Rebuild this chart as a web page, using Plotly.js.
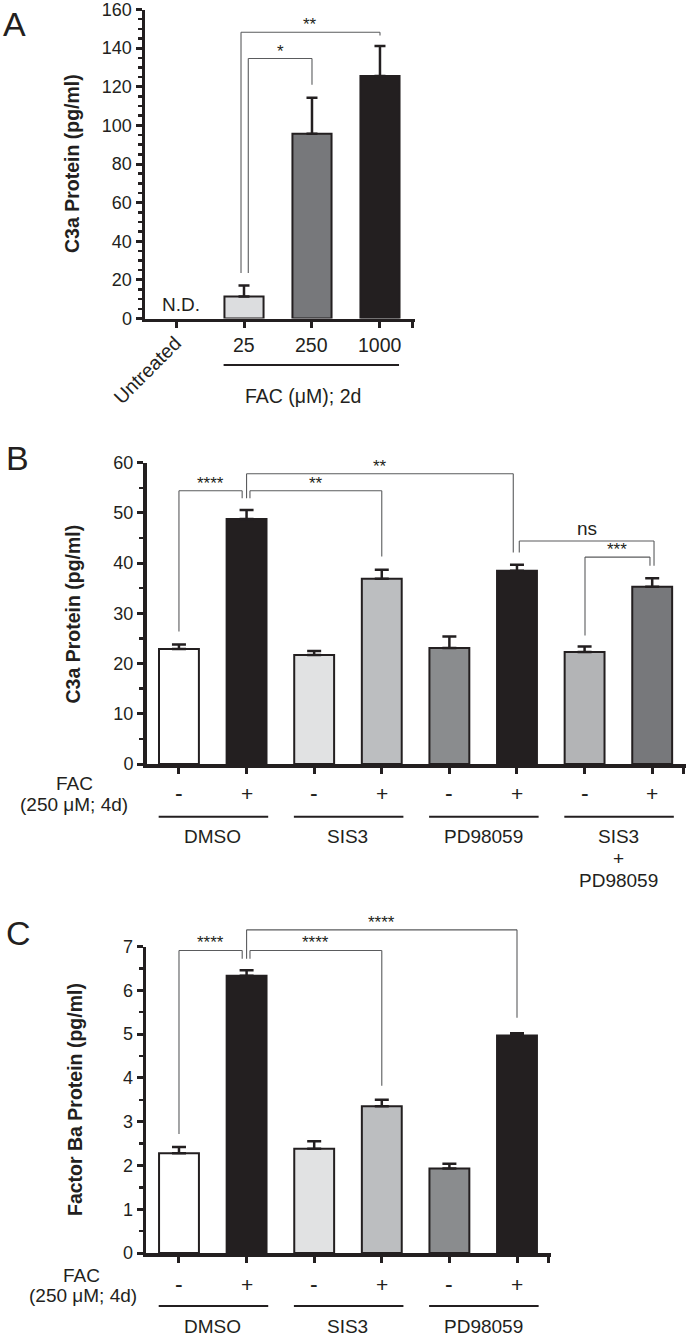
<!DOCTYPE html>
<html><head><meta charset="utf-8">
<script src="https://cdn.plot.ly/plotly-3.0.1.min.js"></script>
<style>html,body{margin:0;padding:0;background:#fff}#chart{width:688px;height:1339px}</style>
</head><body><div id="chart"></div>
<script>
// ---------------- Panel A data ----------------
const aCategories = ['Untreated', '25', '250', '1000'];
const aValues = [null, 11.4, 95.6, 125.6];
const aErrors = [0, 5.7, 18.7, 15.5];
const aColors = ['#ffffff', '#dcdddf', '#77787b', '#231f20'];
const aGroupTitle = 'FAC (μM); 2d';
const aNote = 'N.D.';
// [x0, x1, top, leftBottom, rightBottom, label]
const aSig = [[1.063, 2, 134.6, 23.5, 121, '*'], [0.956, 3, 148.2, 23.5, 146.6, '**']];

// ---------------- Panel B data ----------------
const bFac = ['-', '+', '-', '+', '-', '+', '-', '+'];
const bValues = [22.9, 48.8, 21.7, 36.9, 23.1, 38.5, 22.3, 35.3];
const bErrors = [0.9, 1.8, 0.8, 1.8, 2.3, 1.2, 1.1, 1.7];
const bColors = ['#ffffff', '#231f20', '#e1e2e3', '#bcbec0', '#8a8c8e', '#231f20', '#b3b4b6', '#77787b'];
const bGroups = ['DMSO', 'SIS3', 'PD98059', 'SIS3\n+\nPD98059'];
const bSig = [[0, 0.935, 54.4, 26.4, 52.9, '****'], [1.05, 3, 54.4, 52.9, 41.3, '**'],
              [1, 4.945, 57.8, 52.9, 42.1, '**'], [5.034, 7.027, 44.4, 42.1, 39.5, 'ns'],
              [6.006, 6.967, 41.2, 25.6, 39.5, '***']];

// ---------------- Panel C data ----------------
const cFac = ['-', '+', '-', '+', '-', '+'];
const cValues = [2.28, 6.33, 2.38, 3.35, 1.93, 4.97];
const cErrors = [0.14, 0.13, 0.17, 0.15, 0.11, 0.05];
const cColors = ['#ffffff', '#231f20', '#e1e2e3', '#bcbec0', '#8a8c8e', '#231f20'];
const cGroups = ['DMSO', 'SIS3', 'PD98059'];
const cSig = [[0, 0.935, 6.91, 2.72, 6.72, '****'], [1.05, 3, 6.91, 6.72, 3.82, '****'],
              [1, 5, 7.38, 6.72, 5.37, '****']];

const yTitleA = 'C3a Protein (pg/ml)';
const yTitleB = 'C3a Protein (pg/ml)';
const yTitleC = 'Factor Ba Protein (pg/ml)';
const facLine1 = 'FAC';
const facLine2 = '(250 μM; 4d)';

// ---------------- layout helpers ----------------
const W = 688, H = 1339;
const FONT = '"Liberation Sans", Arial, Helvetica, sans-serif';
const INK = '#231f20';
const BRK = '#5a5b5d';
const py = y => 1 - y / H;
const pxx = x => x / W;

function barTrace(xa, ya, vals, errs, colors, width, capw) {
  return {
    type: 'bar', x: vals.map((_, i) => i), y: vals, width: width,
    xaxis: xa, yaxis: ya,
    marker: {color: colors, line: {color: INK, width: 2}},
    error_y: {type: 'data', symmetric: false, array: errs, arrayminus: errs.map(() => 0),
              color: INK, thickness: 2.5, width: capw},
    hoverinfo: 'none', showlegend: false
  };
}
function xAxis(d, range, anchor, n) {
  const t = []; for (let i = 0; i < n; i++) t.push(i); t.push(range[1] - 0.03);
  return {domain: [pxx(d[0]), pxx(d[1])], range: range, anchor: anchor, showline: true, linewidth: 3.5,
          linecolor: INK, ticks: 'outside', ticklen: 6, tickwidth: 3, tickcolor: INK, tickvals: t,
          showticklabels: false, showgrid: false, zeroline: false, fixedrange: true};
}
function yAxis(d, range, anchor, dtick, minor) {
  return {domain: [py(d[1]), py(d[0])], range: range, anchor: anchor, showline: true, linewidth: 3.5,
          linecolor: INK, ticks: 'outside', ticklen: 6, tickwidth: 3, tickcolor: INK, tick0: 0, dtick: dtick,
          tickfont: {family: FONT, size: 18, color: INK}, ticklabeloverflow: 'allow',
          minor: {dtick: minor, tick0: 0, ticks: 'outside', ticklen: 4, tickwidth: 2.5, tickcolor: INK},
          showgrid: false, zeroline: false, fixedrange: true};
}

const shapes = [];
const annotations = [];
function ann(o) {
  annotations.push(Object.assign({showarrow: false, xanchor: 'center', yanchor: 'middle',
                                  font: {family: FONT, size: 19, color: INK}}, o));
}
function brackets(sig, xa, ya, rmax) {
  sig.forEach(s => {
    const [x0, x1, top, lb, rb, lab] = s;
    const yr = ya + ' domain';
    const line = {color: BRK, width: 1.1};
    shapes.push({type: 'line', xref: xa, yref: yr, x0: x0, x1: x0, y0: lb / rmax, y1: top / rmax, line: line});
    shapes.push({type: 'line', xref: xa, yref: yr, x0: x0, x1: x1, y0: top / rmax, y1: top / rmax, line: line});
    shapes.push({type: 'line', xref: xa, yref: yr, x0: x1, x1: x1, y0: rb / rmax, y1: top / rmax, line: line});
    const isNs = lab === 'ns';
    ann({xref: xa, yref: yr, x: (x0 + x1) / 2, y: top / rmax, yanchor: 'bottom', yshift: isNs ? 0 : -4,
         text: lab, font: {family: FONT, size: isNs ? 19 : 17, color: INK}});
  });
}
function hline(xa, x0, x1, ypx) {
  shapes.push({type: 'line', xref: xa, yref: 'paper', x0: x0, x1: x1, y0: py(ypx), y1: py(ypx),
               line: {color: INK, width: 2}});
}

// ---------------- geometry ----------------
const A = {xd: [145, 415], yd: [9.5, 318.5], xr: [-0.456, 3.515], yr: [0, 160]};
const B = {xd: [146.5, 686], yd: [462.7, 764], xr: [-0.48, 7.5], yr: [0, 60]};
const C = {xd: [146, 551], yd: [946.5, 1253], xr: [-0.488, 5.503], yr: [0, 7]};

const data = [
  barTrace('x', 'y', aValues, aErrors, aColors, 0.575, 5.5),
  barTrace('x2', 'y2', bValues, bErrors, bColors, 0.59, 7),
  barTrace('x3', 'y3', cValues, cErrors, cColors, 0.59, 7)
];

// Panel letters
ann({xref: 'paper', yref: 'paper', x: pxx(14.5), y: py(24.5), text: 'A', font: {family: FONT, size: 34, color: INK}});
ann({xref: 'paper', yref: 'paper', x: pxx(17), y: py(457.5), text: 'B', font: {family: FONT, size: 34, color: INK}});
ann({xref: 'paper', yref: 'paper', x: pxx(18.5), y: py(933), text: 'C', font: {family: FONT, size: 34, color: INK}});

// Y titles
[[yTitleA, 72, 164], [yTitleB, 72, 614.5], [yTitleC, 75, 1100]].forEach(t => {
  ann({xref: 'paper', yref: 'paper', x: pxx(t[1]), y: py(t[2]), text: '<b>' + t[0] + '</b>', textangle: -90,
       font: {family: FONT, size: 19.5, color: INK}});
});

// Panel A labels
aCategories.forEach((c, i) => {
  if (i === 0) {
    ann({xref: 'x', yref: 'y domain', x: i, y: 0, xshift: -29, yshift: -51, text: c, textangle: -45,
         font: {family: FONT, size: 19.5, color: INK}});
  } else {
    ann({xref: 'x', yref: 'y domain', x: i, y: 0, yshift: -26.5, text: c,
         font: {family: FONT, size: 19.5, color: INK}});
  }
});
hline('x', 1 - 0.3, 3 + 0.28, 365);
ann({xref: 'paper', yref: 'paper', x: pxx(303), y: py(396), text: aGroupTitle, font: {family: FONT, size: 19.5, color: INK}});
ann({xref: 'x', yref: 'y', x: 0, y: 0, xshift: 4.5, yshift: 14.5, text: aNote,
     font: {family: FONT, size: 19, color: INK}});
brackets(aSig, 'x', 'y', 160);

// Panels B and C labels
function lowerLabels(xa, fac, groups, axisPx, facX, yOff) {
  ann({xref: 'paper', yref: 'paper', x: pxx(facX[0]), y: py(axisPx + yOff.fac1), text: facLine1});
  ann({xref: 'paper', yref: 'paper', x: pxx(facX[1]), y: py(axisPx + yOff.fac2), text: facLine2});
  fac.forEach((s, i) => {
    ann({xref: xa, yref: 'paper', x: i, y: py(axisPx + yOff.sign), text: s,
         font: {family: FONT, size: s === '+' ? 21 : 23, color: INK}});
  });
  groups.forEach((g, k) => {
    hline(xa, 2 * k - 0.3, 2 * k + 1 + 0.32, axisPx + yOff.line);
    g.split('\n').forEach((ln, j) => {
      ann({xref: xa, yref: 'paper', x: 2 * k + 0.5, y: py(axisPx + yOff.group + 22 * j), text: ln});
    });
  });
}
lowerLabels('x2', bFac, bGroups, 766.7, [74.5, 74], {fac1: 16.8, fac2: 37.3, sign: 26.6, line: 50, group: 70});
lowerLabels('x3', cFac, cGroups, 1255, [81, 83], {fac1: 20, fac2: 40, sign: 29, line: 51, group: 71.7});

brackets(bSig, 'x2', 'y2', 60);
brackets(cSig, 'x3', 'y3', 7);

const layout = {
  width: W, height: H, margin: {l: 0, r: 0, t: 0, b: 0},
  paper_bgcolor: '#ffffff', plot_bgcolor: '#ffffff', showlegend: false,
  font: {family: FONT, color: INK},
  bargap: 0,
  xaxis: xAxis(A.xd, A.xr, 'y', 4),
  yaxis: yAxis(A.yd, A.yr, 'x', 20, 5),
  xaxis2: xAxis(B.xd, B.xr, 'y2', 8),
  yaxis2: yAxis(B.yd, B.yr, 'x2', 10, 5),
  xaxis3: xAxis(C.xd, C.xr, 'y3', 6),
  yaxis3: yAxis(C.yd, C.yr, 'x3', 1, 0.5),
  shapes: shapes,
  annotations: annotations
};
Plotly.newPlot('chart', data, layout, {staticPlot: true, displayModeBar: false});
</script>
</body></html>
